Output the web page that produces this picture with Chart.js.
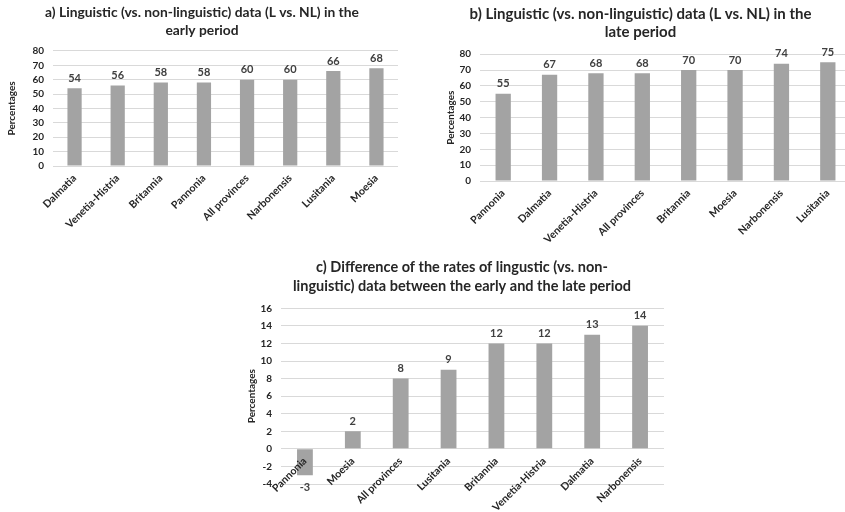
<!DOCTYPE html>
<html>
<head>
<meta charset="utf-8">
<script src="https://cdn.jsdelivr.net/npm/chart.js@4.4.1/dist/chart.umd.min.js"></script>
<style>
  html, body { margin: 0; padding: 0; background: #ffffff; overflow: hidden; width: 845px; height: 512px; position: relative; }
  canvas { position: absolute; }
  #chartEarly { left: 0; top: 0; }
  #chartLate { left: 420px; top: 0; }
  #chartDiff { left: 240px; top: 240px; }
</style>
</head>
<body>
<canvas id="chartEarly" width="420" height="240"></canvas>
<canvas id="chartLate" width="439" height="250"></canvas>
<canvas id="chartDiff" width="440" height="272"></canvas>
<script>
// a) early period
const earlyProvinces = ['Dalmatia', 'Venetia-Histria', 'Britannia', 'Pannonia', 'All provinces', 'Narbonensis', 'Lusitania', 'Moesia'];
const earlyRates = [54, 56, 58, 58, 60, 60, 66, 68];

// b) late period
const lateProvinces = ['Pannonia', 'Dalmatia', 'Venetia-Histria', 'All provinces', 'Britannia', 'Moesia', 'Narbonensis', 'Lusitania'];
const lateRates = [55, 67, 68, 68, 70, 70, 74, 75];

// c) late minus early
const diffProvinces = ['Pannonia', 'Moesia', 'All provinces', 'Lusitania', 'Britannia', 'Venetia-Histria', 'Dalmatia', 'Narbonensis'];
const diffRates = [-3, 2, 8, 9, 12, 12, 13, 14];

// y-axis tick values
const rateTicks = [0, 10, 20, 30, 40, 50, 60, 70, 80];
const diffTicks = [-4, -2, 0, 2, 4, 6, 8, 10, 12, 14, 16];

const FONT = 'Lato, "Liberation Sans", sans-serif';
const BAR_GREY = '#a3a3a3';
const GRID_GREY = '#d9d9d9';
const TEXT_DARK = '#262626';

// Writes each bar's value above it (below it for negative bars)
const valueLabels = {
  id: 'valueLabels',
  afterDatasetsDraw(chart) {
    const ctx = chart.ctx;
    const meta = chart.getDatasetMeta(0);
    const values = chart.data.datasets[0].data;
    ctx.save();
    ctx.font = 'bold 11px ' + FONT;
    ctx.fillStyle = '#404040';
    ctx.textAlign = 'center';
    ctx.textBaseline = 'middle';
    meta.data.forEach((bar, i) => {
      const v = values[i];
      const y = v >= 0 ? bar.y - 10 : bar.y + 12;
      ctx.fillText(String(v), bar.x, y);
    });
    ctx.restore();
  }
};

function makeBarChart(id, cfg) {
  const xScale = {
    grid: { display: false, drawTicks: false },
    border: { display: false },
    ticks: {
      color: TEXT_DARK,
      font: { family: FONT, size: 10.5, weight: 'bold' },
      minRotation: 45,
      maxRotation: 45,
      autoSkip: false,
      padding: 6
    }
  };
  if (cfg.axisAtZero) {
    // category labels sit next to the zero line, drawn over the bars
    xScale.position = { y: 0 };
    xScale.ticks.z = 1;
  } else {
    xScale.afterFit = (s) => { s.height = cfg.xHeight; };
  }
  return new Chart(document.getElementById(id), {
    type: 'bar',
    data: {
      labels: cfg.labels,
      datasets: [{
        data: cfg.values,
        backgroundColor: BAR_GREY,
        borderWidth: 0,
        categoryPercentage: 1,
        barPercentage: 0.33
      }]
    },
    options: {
      responsive: false,
      animation: false,
      devicePixelRatio: 1,
      layout: { padding: cfg.layoutPad },
      plugins: {
        legend: { display: false },
        tooltip: { enabled: false },
        title: {
          display: true,
          text: cfg.title,
          color: TEXT_DARK,
          font: { family: FONT, size: cfg.titleSize, weight: 'bold', lineHeight: cfg.titleLine + 'px' },
          padding: cfg.titlePad
        }
      },
      scales: {
        x: xScale,
        y: {
          min: cfg.ticks[0],
          max: cfg.ticks[cfg.ticks.length - 1],
          afterBuildTicks: (s) => { s.ticks = cfg.ticks.map(v => ({ value: v })); },
          afterFit: (s) => { s.width = cfg.yWidth; },
          grid: { color: GRID_GREY, lineWidth: 1, drawTicks: false },
          border: { display: false },
          ticks: {
            color: TEXT_DARK,
            font: { family: FONT, size: 10, weight: 'bold' },
            padding: 9,
            autoSkip: false
          },
          title: {
            display: true,
            text: 'Percentages',
            color: TEXT_DARK,
            font: { family: FONT, size: 10, weight: 'bold', lineHeight: '12px' },
            padding: { top: cfg.yTitlePad, bottom: 0 }
          }
        }
      }
    },
    plugins: [valueLabels]
  });
}

makeBarChart('chartEarly', {
  labels: earlyProvinces,
  values: earlyRates,
  ticks: rateTicks,
  title: ['a) Linguistic (vs. non-linguistic) data (L vs. NL) in the', 'early period'],
  titleSize: 13.8, titleLine: 17.6,
  titlePad: { top: 3.7, bottom: 12 },
  layoutPad: { left: 6, right: 22, top: 0, bottom: 0 },
  yWidth: 47, xHeight: 74, yTitlePad: 0
});

makeBarChart('chartLate', {
  labels: lateProvinces,
  values: lateRates,
  ticks: rateTicks,
  title: ['b) Linguistic (vs. non-linguistic) data (L vs. NL) in the', 'late period'],
  titleSize: 15, titleLine: 17.5,
  titlePad: { top: 5.75, bottom: 13.5 },
  layoutPad: { left: 10, right: 8, top: 0, bottom: 0 },
  yWidth: 50, xHeight: 69, yTitlePad: 15
});

makeBarChart('chartDiff', {
  labels: diffProvinces,
  values: diffRates,
  ticks: diffTicks,
  title: ['c) Difference of the rates of lingustic (vs. non-', 'linguistic) data between the early and the late period'],
  titleSize: 14.5, titleLine: 19,
  titlePad: { top: 17.9, bottom: 12.4 },
  layoutPad: { left: 20, right: 16, top: 0, bottom: 28 },
  yWidth: 21, yTitlePad: -14,
  axisAtZero: true
});
</script>
</body>
</html>
